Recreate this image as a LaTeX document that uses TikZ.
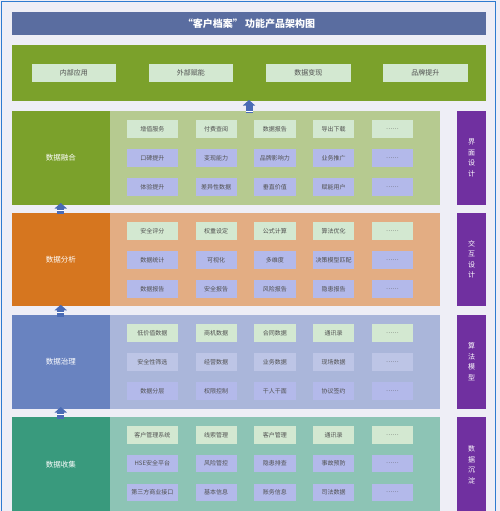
\documentclass[tikz,border=0pt]{standalone}
\usepackage{fontspec}
\newfontfamily\cjk{Noto Sans CJK SC}
\usetikzlibrary{arrows.meta,calc}
\definecolor{bgc}{HTML}{EEEEF6}
\definecolor{framec}{HTML}{2E7BD0}
\definecolor{titlec}{HTML}{5A6DA0}
\definecolor{greenc}{HTML}{7BA12B}
\definecolor{greenp}{HTML}{B6CA90}
\definecolor{orangec}{HTML}{D6761F}
\definecolor{orangep}{HTML}{E3AD83}
\definecolor{bluec}{HTML}{6983C0}
\definecolor{bluep}{HTML}{AAB6DA}
\definecolor{tealc}{HTML}{399A7D}
\definecolor{tealp}{HTML}{8DC4B5}
\definecolor{purplec}{HTML}{7030A0}
\definecolor{gbox}{HTML}{D3E8D1}
\definecolor{lbox}{HTML}{B3B9EA}
\definecolor{lboxb}{HTML}{BDC5E6}
\definecolor{txtc}{HTML}{505050}
\definecolor{arrowc}{HTML}{4A6BB5}
\begin{document}
\begin{tikzpicture}[x=1pt,y=-1pt,
  blk/.style={draw=none,inner sep=0pt,outer sep=0pt,anchor=north west},
  ib/.style={blk,minimum height=17.7pt,text=txtc,font=\cjk\fontsize{6}{7}\selectfont},
  topbox/.style={blk,fill=gbox,minimum width=84.5pt,minimum height=18pt,text=txtc,font=\cjk\fontsize{7}{8}\selectfont},
  layname/.style={blk,minimum width=97.5pt,text=white,font=\cjk\fontsize{7.5}{9}\selectfont},
  panel/.style={blk,minimum width=330.5pt},
  side/.style={blk,fill=purplec,minimum width=28.7pt,text=white,align=center,font=\cjk\fontsize{7}{10.5}\selectfont},
  uparrow/.style={draw=arrowc,line width=7pt,-{Triangle[width=12pt,length=5.5pt]}},
  stripe/.style={draw=white,line width=0.7pt}
]
\useasboundingbox (0,0) rectangle (500,511);
\fill[bgc] (0,0) rectangle (500,511);
\draw[framec,line width=1.5pt] (1.5,515) -- (1.5,1.5) -- (495.5,1.5) -- (495.5,515);

% title
\node[blk,fill=titlec,minimum width=474pt,minimum height=23.5pt,text=white,font=\cjk\bfseries\fontsize{10}{12}\selectfont] (title) at (12,12) {“客户档案” 功能产品架构图};

% top band
\node[blk,fill=greenc,minimum width=474pt,minimum height=55pt] (band) at (12,45.5) {};
\node[topbox] (t1) at (31.7,64.3) {内部应用};
\node[topbox] (t2) at (148.7,64.3) {外部赋能};
\node[topbox] (t3) at (266,64.3) {数据变现};
\node[topbox] (t4) at (383,64.3) {品牌提升};

% layers
\node[layname,fill=greenc,minimum height=93.5pt] (l1) at (12,111) {数据融合};
\node[panel,fill=greenp,minimum height=93.5pt] (p1) at (109.5,111) {};
\node[layname,fill=orangec,minimum height=93.6pt] (l2) at (12,212.7) {数据分析};
\node[panel,fill=orangep,minimum height=93.6pt] (p2) at (109.5,212.7) {};
\node[layname,fill=bluec,minimum height=93.2pt] (l3) at (12,315.3) {数据治理};
\node[panel,fill=bluep,minimum height=93.2pt] (p3) at (109.5,315.3) {};
\node[layname,fill=tealc,minimum height=96pt] (l4) at (12,417) {数据收集};
\node[panel,fill=tealp,minimum height=96pt] (p4) at (109.5,417) {};

% side
\node[side,minimum height=93.5pt] (s1) at (457.3,111) {界\\面\\设\\计};
\node[side,minimum height=93.6pt] (s2) at (457.3,212.7) {交\\互\\设\\计};
\node[side,minimum height=93.2pt] (s3) at (457.3,315.3) {算\\法\\模\\型};
\node[side,minimum height=96pt] (s4) at (457.3,417) {数\\据\\沉\\淀};

% inner boxes
\def\xs{{126.7,195.7,254,313,371.7}}
\def\ws{{51.3,41,41.7,41,41.3}}
\newcommand\mkrow[4]{% name, y, fill, list
  \foreach \t [count=\i] in {#4} {
    \pgfmathsetmacro\xx{\xs[\i-1]}
    \pgfmathsetmacro\ww{\ws[\i-1]}
    \node[ib,fill=#3,minimum width=\ww pt] (#1\i) at (\xx,#2) {\t};
  }}
\mkrow{a}{120}{gbox}{增值服务,付费查阅,数据报告,导出下载,……}
\mkrow{b}{149}{lbox}{口碑提升,变现能力,品牌影响力,业务推广,……}
\mkrow{c}{178}{lbox}{体验提升,差异性数据,垂直价值,赋能用户,……}
\mkrow{d}{222.3}{gbox}{安全评分,权重设定,公式计算,算法优化,……}
\mkrow{e}{251}{lbox}{数据统计,可视化,多维度,决策模型匹配,……}
\mkrow{f}{280}{lbox}{数据报告,安全报告,风险报告,隐患报告,……}
\mkrow{g}{324.3}{gbox}{低价值数据,商机数据,合同数据,通讯录,……}
\mkrow{h}{353}{lboxb}{安全性筛选,经营数据,业务数据,现场数据,……}
\mkrow{k}{382}{lbox}{数据分层,权限控制,千人千面,协议签约,……}
\mkrow{m}{426}{gbox}{客户管理系统,线索管理,客户管理,通讯录,……}
\mkrow{n}{454.7}{lbox}{HSE安全平台,风险管控,隐患排查,事故预防,……}
\mkrow{q}{483.7}{lbox}{第三方商业接口,基本信息,账务信息,司法数据,……}

% arrows
\coordinate (a0) at (band.south |- p1.north);
\draw[uparrow] ([yshift=-2pt]a0) -- ([yshift=0.5pt]band.south);
\draw[stripe] ([xshift=-3.5pt,yshift=-0.5pt]a0) -- ([xshift=3.5pt,yshift=-0.5pt]a0);
\draw[uparrow] ([yshift=-1.5pt]l2.north) -- ([yshift=1.5pt]l1.south);
\draw[stripe] ([xshift=-3.5pt,yshift=2.5pt]l2.north) -- ([xshift=3.5pt,yshift=2.5pt]l2.north);
\draw[uparrow] ([yshift=-1.5pt]l3.north) -- ([yshift=1.5pt]l2.south);
\draw[stripe] ([xshift=-3.5pt,yshift=2.5pt]l3.north) -- ([xshift=3.5pt,yshift=2.5pt]l3.north);
\draw[uparrow] ([yshift=-1.5pt]l4.north) -- ([yshift=1.5pt]l3.south);
\draw[stripe] ([xshift=-3.5pt,yshift=2.5pt]l4.north) -- ([xshift=3.5pt,yshift=2.5pt]l4.north);
\end{tikzpicture}
\end{document}
